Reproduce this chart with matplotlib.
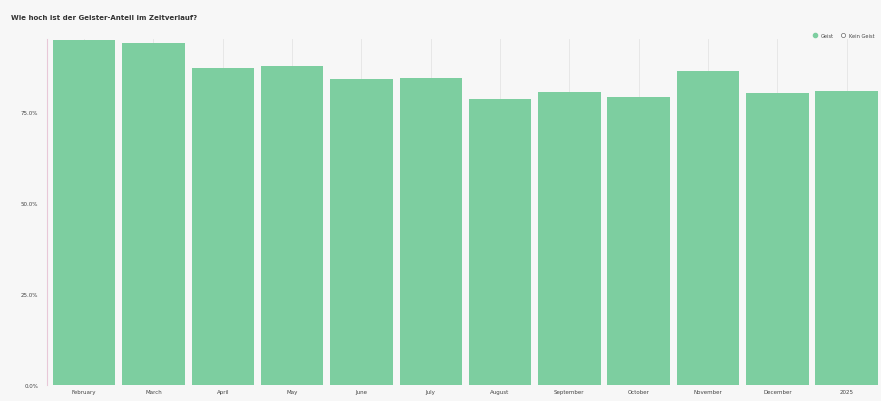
import matplotlib.pyplot as plt
import numpy as np
from matplotlib.lines import Line2D
from matplotlib.ticker import FuncFormatter

months = ["February", "March", "April", "May", "June", "July", "August",
          "September", "October", "November", "December", "2025"]
geist_pct = [94.8, 94.0, 87.1, 87.6, 84.1, 84.3, 78.6, 80.5, 79.1, 86.3, 80.2, 80.8]
y_ticks = [0, 25, 50, 75]

bg = "#f7f7f7"
green = "#7dcea0"

fig = plt.figure(figsize=(8.81, 4.02), dpi=100, facecolor=bg)
ax = fig.add_axes([0.053, 0.04, 0.945, 0.86], facecolor=bg)

x = np.arange(len(months))
for xi in x:
    ax.axvline(xi, color="#e4e4e4", lw=0.6, zorder=0)
ax.bar(x, geist_pct, width=0.9, color=green, zorder=2)

ax.set_xlim(-0.54, len(months) - 0.53)
ax.set_ylim(0, max(geist_pct) + 0.2)
ax.set_xticks(x)
ax.set_xticklabels(months, fontsize=4, color="#444444")
ax.set_yticks(y_ticks)
ax.yaxis.set_major_formatter(FuncFormatter(lambda v, p: f"{v:.1f}%"))
ax.tick_params(axis="y", labelsize=4, colors="#444444", length=0, pad=6)
ax.tick_params(axis="x", length=0, pad=3)

for side in ["top", "right", "bottom"]:
    ax.spines[side].set_visible(False)
ax.spines["left"].set_color("#e8c8d8")
ax.spines["left"].set_linewidth(0.8)

fig.text(0.012, 0.955, "Wie hoch ist der Geister-Anteil im Zeitverlauf?",
         fontsize=5, fontweight="bold", color="#333333", va="center")

handles = [
    Line2D([], [], marker="o", ls="", markersize=3, markerfacecolor=green,
           markeredgecolor=green, label="Geist"),
    Line2D([], [], marker="o", ls="", markersize=3, markerfacecolor="white",
           markeredgecolor="#666666", markeredgewidth=0.5, label="Kein Geist"),
]
fig.legend(handles=handles, loc="center right", bbox_to_anchor=(0.998, 0.91),
           ncol=2, fontsize=3.6, frameon=False, handletextpad=0.2,
           columnspacing=0.8, labelcolor="#444444")

fig.savefig("out.png", dpi=100, facecolor=bg)
